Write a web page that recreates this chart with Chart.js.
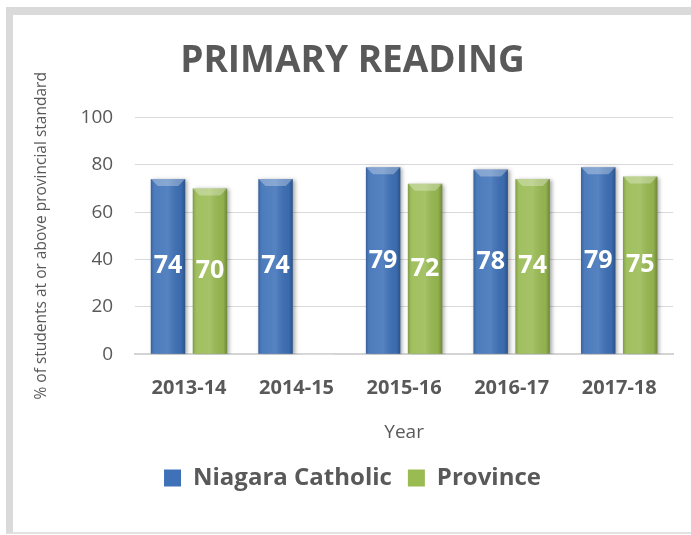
<!DOCTYPE html>
<html>
<head>
<meta charset="utf-8">
<script src="https://cdn.jsdelivr.net/npm/chart.js@4"></script>
<style>
  html, body { margin: 0; padding: 0; background: #fff; }
  #frame {
    position: absolute; left: 6px; top: 7px;
    width: 678px; height: 517px;
    border-top: 8px solid #dadada;
    border-left: 7px solid #dadada;
    border-bottom: 2px solid #e2e2e2;
  }
  #chart { display: block; }
</style>
</head>
<body>
<div id="frame"><canvas id="chart" width="678" height="517"></canvas></div>
<script>
// data
const years = ['2013-14', '2014-15', '2015-16', '2016-17', '2017-18'];
const niagaraCatholic = [74, 74, 79, 78, 79];
const province = [70, null, 72, 74, 75];

const grey = '#595959';
const font = "'Open Sans', sans-serif";

// Excel-ish bevel look drawn over each bar
const bevelPlugin = {
    id: 'bevel',
    beforeDatasetDraw(chart) {
        const ctx = chart.ctx;
        ctx.save();
        ctx.shadowColor = 'rgba(0,0,0,0.35)';
        ctx.shadowBlur = 4;
        ctx.shadowOffsetX = 2;
        ctx.shadowOffsetY = 1;
    },
    afterDatasetDraw(chart, args) {
        const ctx = chart.ctx;
        ctx.restore();
        args.meta.data.forEach(bar => {
            if (bar.skip || bar.y == null || isNaN(bar.y)) return;
            const w = bar.width, left = bar.x - w / 2, top = bar.y, h = bar.base - bar.y;
            const g = ctx.createLinearGradient(left, 0, left + w, 0);
            g.addColorStop(0, 'rgba(0,0,0,0.18)');
            g.addColorStop(0.12, 'rgba(255,255,255,0.08)');
            g.addColorStop(0.5, 'rgba(255,255,255,0.12)');
            g.addColorStop(0.88, 'rgba(0,0,0,0.05)');
            g.addColorStop(1, 'rgba(0,0,0,0.28)');
            ctx.fillStyle = g;
            ctx.fillRect(left, top, w, h);
            // top bevel
            const b = 7;
            ctx.beginPath();
            ctx.moveTo(left, top);
            ctx.lineTo(left + w, top);
            ctx.lineTo(left + w - b, top + b);
            ctx.lineTo(left + b, top + b);
            ctx.closePath();
            ctx.fillStyle = 'rgba(255,255,255,0.3)';
            ctx.fill();
        });
    }
};

// white value labels in the middle of each bar
const valueLabels = {
    id: 'valueLabels',
    afterDatasetsDraw(chart) {
        const ctx = chart.ctx;
        ctx.save();
        ctx.font = "bold 25px " + font;
        ctx.fillStyle = '#fff';
        ctx.textAlign = 'center';
        ctx.textBaseline = 'middle';
        chart.data.datasets.forEach((ds, i) => {
            chart.getDatasetMeta(i).data.forEach((bar, j) => {
                if (ds.data[j] == null) return;
                ctx.fillText(ds.data[j], bar.x, (bar.y + bar.base) / 2);
            });
        });
        ctx.restore();
    }
};

new Chart(document.getElementById('chart'), {
    type: 'bar',
    data: {
        labels: years,
        datasets: [
            { label: 'Niagara Catholic', data: niagaraCatholic, backgroundColor: '#3e71b8' },
            { label: 'Province', data: province, backgroundColor: '#99bb52' }
        ]
    },
    options: {
        responsive: false,
        animation: false,
        categoryPercentage: 0.78,
        barPercentage: 0.82,
        layout: { padding: { left: 19, right: 18, top: 0, bottom: 32 } },
        plugins: {
            title: {
                display: true,
                text: 'PRIMARY READING',
                color: grey,
                font: { family: font, size: 37, weight: 'bold' },
                padding: { top: 24, bottom: 34 }
            },
            legend: {
                position: 'bottom',
                labels: {
                    color: grey,
                    boxWidth: 17,
                    boxHeight: 17,
                    padding: 16,
                    font: { family: font, size: 24, weight: 'bold' }
                }
            },
            tooltip: { enabled: false }
        },
        scales: {
            x: {
                grid: { display: false },
                border: { color: '#d4d4d4', width: 2 },
                ticks: { color: grey, padding: 14, font: { family: font, size: 20, weight: 'bold' } },
                title: {
                    display: true, text: 'Year', color: grey,
                    font: { family: font, size: 19 },
                    padding: { top: 7, bottom: 6 }
                }
            },
            y: {
                min: 0, max: 100,
                ticks: { stepSize: 20, color: grey, padding: 22, font: { family: font, size: 19 } },
                grid: { color: '#d9d9d9', drawTicks: false },
                border: { display: false },
                title: {
                    display: true, text: '% of students at or above provincial standard',
                    color: grey, font: { family: font, size: 15.5 },
                    padding: { top: 0, bottom: 8 }
                }
            }
        }
    },
    plugins: [bevelPlugin, valueLabels]
});
</script>
</body>
</html>
